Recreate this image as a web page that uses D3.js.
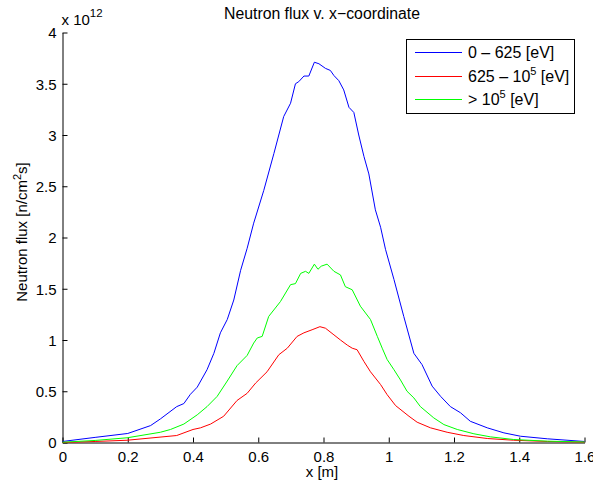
<!DOCTYPE html>
<html>
<head>
<meta charset="utf-8">
<script src="https://cdn.jsdelivr.net/npm/d3@7"></script>
<style>
  body { margin: 0; background: #fff; }
  svg { display: block; font-family: "Liberation Sans", Arial, sans-serif; }
</style>
</head>
<body>
<div id="chart"></div>
<script>
// values in units of 1e12 n/cm^2s
var xBlue = [0, 0.1, 0.2, 0.27, 0.30, 0.35, 0.372, 0.392, 0.413, 0.443, 0.464, 0.484, 0.505, 0.525, 0.546, 0.566, 0.586, 0.617, 0.648, 0.678, 0.699, 0.714, 0.724, 0.740, 0.755, 0.772, 0.786, 0.806, 0.821, 0.832, 0.847, 0.862, 0.878, 0.893, 0.908, 0.924, 0.939, 0.959, 0.975, 0.990, 1.016, 1.046, 1.077, 1.102, 1.133, 1.159, 1.189, 1.220, 1.25, 1.302, 1.353, 1.404, 1.486, 1.6];
var fluxBlue = [0.01, 0.05, 0.088, 0.165, 0.23, 0.35, 0.38, 0.47, 0.54, 0.71, 0.87, 1.07, 1.20, 1.39, 1.68, 1.895, 2.14, 2.46, 2.82, 3.18, 3.31, 3.50, 3.52, 3.575, 3.575, 3.71, 3.695, 3.65, 3.63, 3.58, 3.53, 3.44, 3.27, 3.22, 3.00, 2.79, 2.62, 2.27, 2.10, 1.885, 1.59, 1.23, 0.87, 0.76, 0.55, 0.45, 0.35, 0.29, 0.207, 0.143, 0.094, 0.061, 0.036, 0.01];

var xRed = [0, 0.1, 0.198, 0.35, 0.40, 0.423, 0.454, 0.494, 0.535, 0.566, 0.592, 0.627, 0.663, 0.689, 0.719, 0.740, 0.765, 0.789, 0.806, 0.832, 0.852, 0.873, 0.888, 0.903, 0.924, 0.944, 0.975, 0.995, 1.021, 1.062, 1.087, 1.128, 1.179, 1.230, 1.302, 1.383, 1.486, 1.6];
var fluxRed = [0, 0.01, 0.022, 0.068, 0.127, 0.143, 0.18, 0.256, 0.41, 0.48, 0.58, 0.69, 0.856, 0.92, 1.035, 1.07, 1.10, 1.13, 1.115, 1.05, 1.00, 0.95, 0.92, 0.905, 0.79, 0.69, 0.565, 0.467, 0.36, 0.256, 0.198, 0.143, 0.10, 0.068, 0.039, 0.022, 0.01, 0.003];

var xGreen = [0, 0.1, 0.198, 0.30, 0.331, 0.372, 0.413, 0.443, 0.474, 0.505, 0.535, 0.566, 0.586, 0.597, 0.612, 0.632, 0.668, 0.699, 0.714, 0.730, 0.745, 0.755, 0.772, 0.783, 0.793, 0.811, 0.832, 0.852, 0.867, 0.888, 0.913, 0.944, 0.965, 0.980, 0.995, 1.016, 1.036, 1.056, 1.077, 1.097, 1.138, 1.169, 1.21, 1.261, 1.312, 1.383, 1.486, 1.6];
var fluxGreen = [0.003, 0.02, 0.046, 0.10, 0.127, 0.18, 0.27, 0.35, 0.45, 0.60, 0.75, 0.85, 0.97, 1.02, 1.035, 1.23, 1.375, 1.54, 1.55, 1.65, 1.67, 1.65, 1.74, 1.69, 1.72, 1.74, 1.67, 1.635, 1.52, 1.49, 1.33, 1.20, 1.035, 0.92, 0.81, 0.71, 0.61, 0.50, 0.435, 0.35, 0.24, 0.175, 0.127, 0.085, 0.055, 0.029, 0.013, 0.005];

var xTicks = [0, 0.2, 0.4, 0.6, 0.8, 1, 1.2, 1.4, 1.6];
var yTicks = [0, 0.5, 1, 1.5, 2, 2.5, 3, 3.5, 4];

var series = [
    {name: "0 \u2013 625 [eV]", sup: null, x: xBlue, y: fluxBlue, color: "#0000ff"},
    {name: "625 \u2013 10", sup: "5", tail: " [eV]", x: xRed, y: fluxRed, color: "#ff0000"},
    {name: "> 10", sup: "5", tail: " [eV]", x: xGreen, y: fluxGreen, color: "#00ff00"}
];

var width = 593, height = 488;
var plotLeft = 62.5, plotRight = 584.5, plotTop = 32.5, plotBottom = 442.5;
var fs = 15;

var svg = d3.select("#chart").append("svg")
    .attr("width", width)
    .attr("height", height);

var x = d3.scaleLinear().domain([0, 1.6]).range([plotLeft, plotRight]);
var y = d3.scaleLinear().domain([0, 4]).range([plotBottom, plotTop]);

// axes, ticks pointing inward like matlab
var xAxis = svg.append("g")
    .attr("transform", "translate(0," + plotBottom + ")")
    .call(d3.axisBottom(x).tickValues(xTicks).tickSizeInner(-5).tickSizeOuter(0).tickPadding(9)
        .tickFormat(d3.format("")));
var yAxis = svg.append("g")
    .attr("transform", "translate(" + plotLeft + ",0)")
    .call(d3.axisLeft(y).tickValues(yTicks).tickSizeInner(-5).tickSizeOuter(0).tickPadding(6)
        .tickFormat(d3.format("")));

[xAxis, yAxis].forEach(function(a) {
    a.attr("font-size", null).attr("font-family", null);
    a.selectAll("text").attr("font-size", fs).attr("fill", "#000");
    a.selectAll("line").attr("stroke", "#000");
    a.select(".domain").attr("stroke", "#000");
});
yAxis.selectAll("text").attr("dy", "0.36em");
xAxis.selectAll("text").attr("dy", "0.71em");

var line = d3.line();

series.forEach(function(s) {
    var pts = s.x.map(function(v, i) { return [x(v), y(s.y[i])]; });
    svg.append("path")
        .attr("d", line(pts))
        .attr("fill", "none")
        .attr("stroke", s.color)
        .attr("stroke-width", 1);
});

// title and labels
svg.append("text")
    .attr("x", 322).attr("y", 19)
    .attr("text-anchor", "middle").attr("font-size", 15.8)
    .text("Neutron flux v. x\u2212coordinate");

svg.append("text")
    .attr("x", 322).attr("y", 477)
    .attr("text-anchor", "middle").attr("font-size", fs)
    .text("x [m]");

var yl = svg.append("text")
    .attr("transform", "translate(26.5,232) rotate(-90)")
    .attr("text-anchor", "middle").attr("font-size", fs);
yl.append("tspan").text("Neutron flux [n/cm");
yl.append("tspan").attr("dy", -6).attr("font-size", 11).text("2");
yl.append("tspan").attr("dy", 6).text("s]");

var ex = svg.append("text").attr("x", 61.5).attr("y", 25).attr("font-size", fs);
ex.append("tspan").text("x 10");
ex.append("tspan").attr("dy", -8).attr("font-size", 11.5).text("12");

// legend
var lg = svg.append("g");
lg.append("rect")
    .attr("x", 406.5).attr("y", 39.5).attr("width", 168).attr("height", 74)
    .attr("fill", "#fff").attr("stroke", "#000");

series.forEach(function(s, i) {
    var ly = Math.round(52 + i * 23.5) + 0.5;
    lg.append("line")
        .attr("x1", 415).attr("x2", 462).attr("y1", ly).attr("y2", ly)
        .attr("stroke", s.color);
    var t = lg.append("text").attr("x", 468).attr("y", ly + 5.5).attr("font-size", 16);
    t.append("tspan").text(s.name);
    if (s.sup) {
        t.append("tspan").attr("dy", -7).attr("font-size", 11).text(s.sup);
        t.append("tspan").attr("dy", 7).text(s.tail);
    }
});
</script>
</body>
</html>
